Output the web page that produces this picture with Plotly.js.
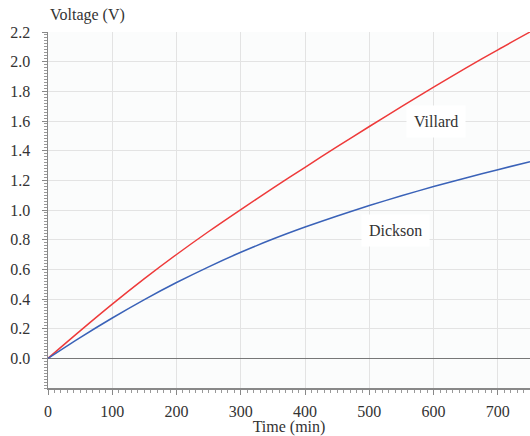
<!DOCTYPE html>
<html><head><meta charset="utf-8">
<script src="https://cdn.plot.ly/plotly-3.0.1.min.js"></script>
<style>html,body{margin:0;padding:0;background:#fff}</style>
</head><body>
<div id="chart" style="width:530px;height:436px"></div>
<script>
var timeMin = [0, 50, 100, 150, 200, 250, 300, 350, 400, 450, 500, 550, 600, 650, 700, 750];
var villard = [0, 0.185, 0.365, 0.537, 0.700, 0.855, 1.003, 1.147, 1.288, 1.427, 1.563, 1.697, 1.828, 1.956, 2.080, 2.200];
var dickson = [0, 0.140, 0.272, 0.396, 0.511, 0.617, 0.715, 0.804, 0.885, 0.960, 1.030, 1.096, 1.158, 1.216, 1.272, 1.326];
var seriesNames = ["Villard", "Dickson"];
var labelX = [604, 540];
var labelY = [1.60, 0.865];
var yTicks = [0, 0.2, 0.4, 0.6, 0.8, 1.0, 1.2, 1.4, 1.6, 1.8, 2.0, 2.2];
var yTickText = ["0.0","0.2","0.4","0.6","0.8","1.0","1.2","1.4","1.6","1.8","2.0","2.2"];

var font = {family: "Liberation Serif", size: 16, color: "#333"};

var traces = [
  {x: timeMin, y: villard, mode: "lines", line: {color: "#ee3a3a", width: 1.5, shape: "spline", smoothing: 0.8}, name: seriesNames[0], hoverinfo: "none"},
  {x: timeMin, y: dickson, mode: "lines", line: {color: "#3a62b8", width: 1.5, shape: "spline", smoothing: 0.8}, name: seriesNames[1], hoverinfo: "none"}
];

var annotations = seriesNames.map(function(n, i){
  return {x: labelX[i], y: labelY[i], xref: "x", yref: "y", text: n, showarrow: false,
    font: font, bgcolor: "#ffffff", borderpad: 7};
});
annotations.push({xref: "paper", yref: "paper", x: -0.001, y: 1.0, yshift: 17, xanchor: "left", yanchor: "middle",
  text: "Voltage (V)", showarrow: false, font: font});

var layout = {
  width: 530, height: 436,
  margin: {l: 48, r: 0, t: 32, b: 48},
  paper_bgcolor: "#ffffff",
  plot_bgcolor: "#fbfcfc",
  showlegend: false,
  font: font,
  xaxis: {
    range: [0, 750], dtick: 100, tick0: 0,
    showgrid: true, gridcolor: "#e3e3e3", gridwidth: 1,
    zeroline: false,
    showline: true, linecolor: "#888", linewidth: 1.5,
    ticks: "outside", ticklen: 5, tickcolor: "#888", tickwidth: 1,
    minor: {dtick: 10, ticks: "outside", ticklen: 3, tickcolor: "#999", showgrid: false},
    tickfont: font, ticklabelstandoff: 3,
    title: {text: "Time (min)", font: font, standoff: 0}
  },
  yaxis: {
    range: [-0.2, 2.2],
    tickmode: "array", tickvals: yTicks, ticktext: yTickText,
    showgrid: true, gridcolor: "#e3e3e3", gridwidth: 1,
    zeroline: true, zerolinecolor: "#777", zerolinewidth: 1,
    showline: true, linecolor: "#888", linewidth: 1.5,
    ticks: "outside", ticklen: 5, tickcolor: "#888", tickwidth: 1,
    minor: {dtick: 0.02, ticks: "outside", ticklen: 3, tickcolor: "#999", showgrid: false},
    tickfont: font, ticklabelstandoff: 8
  },
  annotations: annotations
};

Plotly.newPlot("chart", traces, layout, {displayModeBar: false, staticPlot: true});
</script>
</body></html>
